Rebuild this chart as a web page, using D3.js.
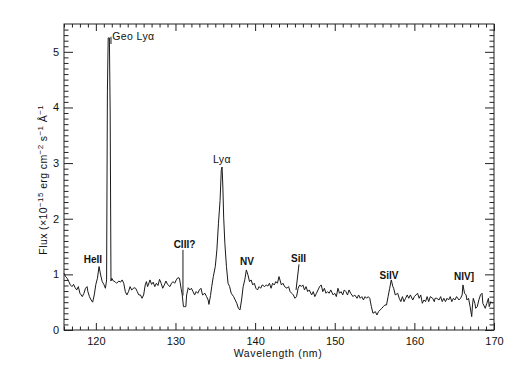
<!DOCTYPE html>
<html>
<head>
<meta charset="utf-8">
<script src="https://cdn.jsdelivr.net/npm/d3@7"></script>
<style>
  body { margin: 0; background: #fff; }
  svg { font-family: "Liberation Sans", Arial, sans-serif; }
  .tick text { font-size: 11px; fill: #111; }
  .tick line { stroke: #222; }
</style>
</head>
<body>
<svg></svg>
<script>
// Spectrum values (wavelength in nm, flux in 1e-15 erg/cm2/s/A)
const wavelength = [
  116.0, 116.2, 116.4, 116.6, 116.8, 117.0, 117.2, 117.4, 117.6, 117.8,
  118.0, 118.3, 118.5, 118.7, 118.9, 119.0, 119.2, 119.4, 119.6, 119.8,
  120.0, 120.2, 120.4, 120.6, 120.8, 121.0, 121.2, 121.35, 121.45, 121.55,
  121.7, 121.8, 121.9, 122.0, 122.2, 122.4, 122.6, 122.9, 123.1, 123.3,
  123.5, 123.7, 123.9, 124.1, 124.3, 124.5, 124.8, 125.0, 125.2, 125.4,
  125.6, 125.8, 126.0, 126.2, 126.35, 126.5, 126.8, 127.0, 127.2, 127.4,
  127.6, 127.8, 128.0, 128.2, 128.4, 128.6, 128.8, 129.0, 129.3, 129.5,
  129.7, 129.9, 130.1, 130.3, 130.5, 130.7, 130.85, 131.0, 131.1, 131.3,
  131.4, 131.6, 131.8, 132.0, 132.2, 132.4, 132.6, 132.8, 133.0, 133.2,
  133.4, 133.7, 133.9, 134.1, 134.2, 134.4, 134.55, 134.75, 135.0, 135.2,
  135.4, 135.6, 135.75, 135.85, 135.95, 136.05, 136.2, 136.4, 136.6, 136.8,
  137.0, 137.3, 137.5, 137.7, 137.9, 138.1, 138.3, 138.5, 138.7, 138.9,
  139.1, 139.3, 139.5, 139.7, 139.9, 140.1, 140.3, 140.5, 140.7, 140.9,
  141.2, 141.4, 141.6, 141.8, 142.0, 142.2, 142.4, 142.6, 142.8, 143.0,
  143.3, 143.5, 143.7, 144.0, 144.2, 144.4, 144.6, 144.8, 145.0, 145.2,
  145.4, 145.6, 145.8, 146.0, 146.2, 146.4, 146.6, 146.8, 147.1, 147.3,
  147.5, 147.7, 147.9, 148.1, 148.3, 148.5, 148.7, 148.9, 149.1, 149.3,
  149.5, 149.8, 150.0, 150.2, 150.4, 150.6, 150.8, 151.0, 151.2, 151.4,
  151.6, 151.8, 152.0, 152.3, 152.5, 152.8, 153.0, 153.2, 153.4, 153.6,
  153.8, 154.0, 154.2, 154.4, 154.6, 154.8, 155.1, 155.3, 155.5, 155.7,
  155.9, 156.1, 156.3, 156.5, 156.7, 156.9, 157.1, 157.3, 157.4, 157.6,
  157.9, 158.1, 158.3, 158.5, 158.7, 158.9, 159.1, 159.3, 159.5, 159.8,
  160.0, 160.2, 160.4, 160.6, 160.8, 161.0, 161.2, 161.4, 161.6, 161.8,
  162.0, 162.3, 162.5, 162.6, 162.8, 163.1, 163.3, 163.5, 163.7, 163.9,
  164.1, 164.3, 164.5, 164.7, 164.9, 165.1, 165.3, 165.6, 165.8, 166.0,
  166.1, 166.3, 166.5, 166.6, 166.8, 167.0, 167.2, 167.3, 167.4, 167.6,
  167.7, 167.9, 168.1, 168.3, 168.5, 168.6, 168.9, 169.1, 169.3, 169.4,
  169.6, 169.8
];
const flux = [
  1.02, 0.96, 0.93, 0.87, 0.81, 0.78, 0.82, 0.76, 0.72, 0.78,
  0.66, 0.60, 0.66, 0.75, 0.78, 0.69, 0.60, 0.54, 0.50, 0.63,
  0.82, 0.93, 1.14, 0.99, 0.87, 0.82, 0.75, 0.90, 4.28, 5.25,
  5.25, 3.90, 0.88, 0.93, 0.88, 0.87, 0.84, 0.88, 0.86, 0.90,
  0.84, 0.69, 0.63, 0.69, 0.78, 0.72, 0.76, 0.75, 0.69, 0.63,
  0.63, 0.57, 0.63, 0.81, 0.87, 0.78, 0.90, 0.82, 0.86, 0.78,
  0.84, 0.80, 0.91, 0.84, 0.75, 0.81, 0.88, 0.82, 0.78, 0.84,
  0.87, 0.84, 0.90, 0.94, 0.93, 0.75, 0.63, 0.42, 0.42, 0.42,
  0.63, 0.76, 0.72, 0.75, 0.69, 0.63, 0.69, 0.66, 0.72, 0.75,
  0.63, 0.66, 0.60, 0.54, 0.46, 0.62, 0.78, 0.96, 1.14, 1.44,
  1.92, 2.33, 2.87, 2.93, 2.57, 2.03, 1.56, 1.14, 0.84, 0.78,
  0.66, 0.60, 0.54, 0.48, 0.39, 0.36, 0.54, 0.78, 0.90, 1.08,
  0.99, 0.87, 0.90, 0.81, 0.84, 0.75, 0.72, 0.78, 0.75, 0.81,
  0.78, 0.81, 0.79, 0.84, 0.75, 0.84, 0.81, 0.87, 0.84, 0.96,
  0.81, 0.84, 0.78, 0.75, 0.78, 0.69, 0.66, 0.63, 0.57, 0.60,
  0.75, 0.81, 0.78, 0.81, 0.72, 0.78, 0.69, 0.72, 0.63, 0.69,
  0.60, 0.66, 0.72, 0.78, 0.81, 0.69, 0.75, 0.66, 0.69, 0.66,
  0.72, 0.63, 0.66, 0.60, 0.75, 0.66, 0.69, 0.63, 0.72, 0.69,
  0.63, 0.72, 0.66, 0.60, 0.63, 0.57, 0.63, 0.57, 0.60, 0.54,
  0.60, 0.57, 0.60, 0.57, 0.42, 0.30, 0.33, 0.27, 0.33, 0.36,
  0.39, 0.42, 0.45, 0.45, 0.60, 0.75, 0.90, 0.78, 0.75, 0.63,
  0.66, 0.57, 0.51, 0.60, 0.51, 0.57, 0.63, 0.57, 0.63, 0.54,
  0.60, 0.63, 0.66, 0.57, 0.63, 0.48, 0.54, 0.51, 0.60, 0.51,
  0.60, 0.57, 0.51, 0.57, 0.57, 0.54, 0.60, 0.51, 0.57, 0.51,
  0.57, 0.54, 0.60, 0.51, 0.57, 0.54, 0.60, 0.54, 0.57, 0.63,
  0.81, 0.66, 0.63, 0.54, 0.57, 0.42, 0.24, 0.45, 0.57, 0.48,
  0.39, 0.42, 0.54, 0.63, 0.66, 0.48, 0.39, 0.48, 0.57, 0.42,
  0.51, 0.48
];

// Tick values
const xTicks = [120, 130, 140, 150, 160, 170];
const yTicks = [0, 1, 2, 3, 4, 5];

// Line identifications: label, wavelength and flux level of the label baseline
const lineLabels = ["Geo Ly\u03b1", "HeII", "CIII?", "Ly\u03b1", "NV", "SiII", "SiIV", "NIV]"];
const labelWl = [122.05, 119.64, 131.13, 135.84, 138.98, 145.45, 156.81, 166.23];
const labelFlux = [5.21, 1.20, 1.47, 3.0, 1.17, 1.22, 0.92, 0.90];
const labelBold = [false, true, true, false, true, true, true, true];

// Pointer lines: [wl1, flux1, wl2, flux2]
const pointers = [
  [121.9, 5.27, 121.9, 5.14],
  [130.94, 1.44, 130.94, 0.62],
  [145.51, 1.18, 145.14, 0.72]
];

const margin = { top: 24, right: 24, bottom: 41, left: 64 },
  width = 518 - margin.left - margin.right,
  height = 371 - margin.top - margin.bottom;

const svg = d3.select("svg")
  .attr("width", 518)
  .attr("height", 371)
  .append("g")
  .attr("transform", `translate(${margin.left},${margin.top})`);

const x = d3.scaleLinear().domain([116, 170]).range([0, width]);
const y = d3.scaleLinear().domain([0, 5.5]).range([height, 0]);

const xMinor = d3.range(116, 171, 1).filter((v) => v % 10 !== 0);
const yMinor = d3.range(0, 55, 1).map((v) => v / 10).filter((v) => v % 1 !== 0);

// Bottom axis (ticks pointing inward)
svg.append("g")
  .attr("transform", `translate(0,${height})`)
  .call(d3.axisBottom(x).tickValues(xTicks).tickSize(-7).tickPadding(7).tickFormat(d3.format("d")));
svg.append("g")
  .attr("transform", `translate(0,${height})`)
  .call(d3.axisBottom(x).tickValues(xMinor).tickSize(-3.5).tickFormat(""));
// Top axis
svg.append("g")
  .call(d3.axisTop(x).tickValues(xTicks).tickSize(-7).tickFormat(""));
svg.append("g")
  .call(d3.axisTop(x).tickValues(xMinor).tickSize(-3.5).tickFormat(""));
// Left axis
svg.append("g")
  .call(d3.axisLeft(y).tickValues(yTicks).tickSize(-9).tickPadding(5).tickFormat(d3.format("d")));
svg.append("g")
  .call(d3.axisLeft(y).tickValues(yMinor).tickSize(-4.5).tickFormat(""));
// Right axis
svg.append("g")
  .attr("transform", `translate(${width},0)`)
  .call(d3.axisRight(y).tickValues(yTicks).tickSize(-9).tickFormat(""));
svg.append("g")
  .attr("transform", `translate(${width},0)`)
  .call(d3.axisRight(y).tickValues(yMinor).tickSize(-4.5).tickFormat(""));

svg.selectAll(".domain").remove();

// Frame
svg.append("rect")
  .attr("x", 0).attr("y", 0)
  .attr("width", width).attr("height", height)
  .attr("fill", "none")
  .attr("stroke", "#222")
  .attr("stroke-width", 1);

// Spectrum
const data = wavelength.map((w, i) => ({ w: w, f: flux[i] }));
const line = d3.line().x((d) => x(d.w)).y((d) => y(d.f));
svg.append("path")
  .datum(data)
  .attr("fill", "none")
  .attr("stroke", "#1a1a1a")
  .attr("stroke-width", 1)
  .attr("d", line);

// Pointers
svg.selectAll(".pointer")
  .data(pointers)
  .enter()
  .append("line")
  .attr("x1", (d) => x(d[0])).attr("y1", (d) => y(d[1]))
  .attr("x2", (d) => x(d[2])).attr("y2", (d) => y(d[3]))
  .attr("stroke", "#1a1a1a")
  .attr("stroke-width", 1);

// Line labels
svg.selectAll(".lbl")
  .data(lineLabels)
  .enter()
  .append("text")
  .attr("x", (d, i) => x(labelWl[i]))
  .attr("y", (d, i) => y(labelFlux[i]))
  .attr("text-anchor", (d, i) => (i === 0 ? "start" : "middle"))
  .style("font-size", (d, i) => (labelBold[i] ? "10px" : "10.5px"))
  .style("letter-spacing", (d, i) => (labelBold[i] ? "0px" : "0.4px"))
  .style("font-weight", (d, i) => (labelBold[i] ? "bold" : "normal"))
  .style("fill", "#111")
  .text((d) => d);

// Axis titles
svg.append("text")
  .attr("x", width / 2 - 1)
  .attr("y", height + 27)
  .attr("text-anchor", "middle")
  .style("font-size", "10.5px")
  .style("letter-spacing", "0.6px")
  .style("fill", "#111")
  .text("Wavelength (nm)");

const yt = svg.append("text")
  .attr("transform", `translate(-17,${y(2.7)}) rotate(-90)`)
  .attr("text-anchor", "middle")
  .style("font-size", "10.5px")
  .style("letter-spacing", "0.4px")
  .style("fill", "#111");
yt.append("tspan").text("Flux (\u00d710");
yt.append("tspan").attr("dy", -4).style("font-size", "8px").text("\u221215");
yt.append("tspan").attr("dy", 4).text(" erg cm");
yt.append("tspan").attr("dy", -4).style("font-size", "8px").text("\u22122");
yt.append("tspan").attr("dy", 4).text(" s");
yt.append("tspan").attr("dy", -4).style("font-size", "8px").text("\u22121");
yt.append("tspan").attr("dy", 4).text(" \u00c5");
yt.append("tspan").attr("dy", -4).style("font-size", "8px").text("\u22121");
</script>
</body>
</html>
